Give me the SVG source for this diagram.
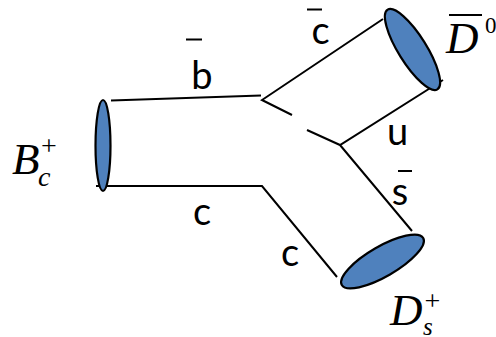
<svg xmlns="http://www.w3.org/2000/svg" width="496" height="337" viewBox="0 0 496 337">
<style>
.l{fill:none;stroke:#000;stroke-width:2;stroke-linecap:butt;stroke-linejoin:miter}
.h{fill:#4f81bd;stroke:#000;stroke-width:2.2}
.q{font-family:Lato,"Open Sans",sans-serif;font-size:38px;fill:#000;text-anchor:middle}
.m{font-family:"Liberation Serif",serif;font-style:italic;fill:#000}
.u{font-family:"Liberation Serif",serif;fill:#000}
.b{stroke:#000;stroke-width:2;fill:none}
</style>
<rect width="496" height="337" fill="#fff"/>
<g id="connectors">
<path class="l" d="M111 100.500L261 95.500M383 19L262 100L292 115M307 130L340 145L443 80M340 145L412 231M96 186H262L337 277"/>
</g>
<g id="node-bc">
<ellipse class="h" cx="103" cy="145.500" rx="7.500" ry="45.500"/>
<text class="m" font-size="45" x="12" y="174">B</text>
<text class="u" font-size="28" x="41" y="155">+</text>
<text class="m" font-size="28" x="38" y="186">c</text>
</g>
<g id="node-d0">
<ellipse class="h" cx="412.500" cy="49.500" rx="14" ry="47" transform="rotate(-32 412.500 49.500)"/>
<path class="b" d="M449 15H482"/>
<text class="m" font-size="45" x="446" y="53">D</text>
<text class="u" font-size="23" x="485" y="33">0</text>
</g>
<g id="node-ds">
<ellipse class="h" cx="382.500" cy="261.500" rx="47" ry="15" transform="rotate(-30 382.500 261.500)"/>
<text class="m" font-size="45" x="390" y="325">D</text>
<text class="u" font-size="28" x="424.500" y="310">+</text>
<text class="m" font-size="25" x="423" y="335">s</text>
</g>
<g id="labels">
<path class="b" d="M186 39.500H202M307 9.500H322M398 171H412"/>
<text class="q" x="202" y="89">b</text>
<text class="q" x="320.500" y="44">c</text>
<text class="q" x="397.500" y="145">u</text>
<text class="q" x="400" y="205">s</text>
<text class="q" x="202" y="225">c</text>
<text class="q" x="290" y="266">c</text>
</g>
</svg>
